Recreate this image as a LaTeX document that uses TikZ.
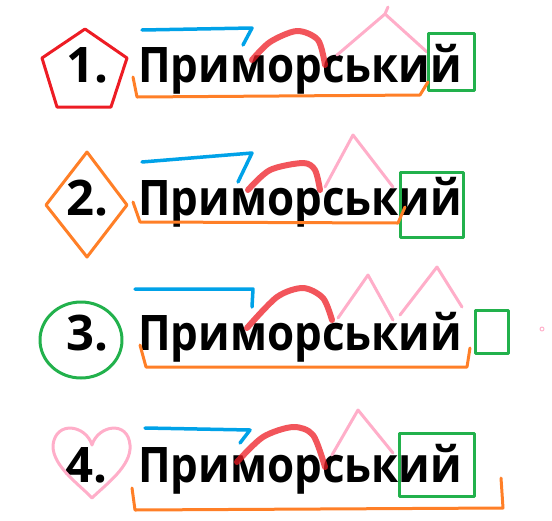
\documentclass[tikz,border=0pt]{standalone}
\usepackage{fontspec}
\setmainfont{Open Sans}
\definecolor{pRed}{RGB}{237,28,36}
\definecolor{pOrange}{RGB}{255,127,39}
\definecolor{pGreen}{RGB}{34,177,76}
\definecolor{pBlue}{RGB}{0,162,232}
\definecolor{pPink}{RGB}{255,174,201}
\begin{document}
\begin{tikzpicture}[x=1pt,y=-1pt, line cap=round, line join=round,
  numtxt/.style={anchor=base west, inner sep=0pt, font=\fontsize{49}{50}\selectfont\bfseries},
  wordtxt/.style={anchor=base west, inner sep=0pt, xscale=0.895, font=\fontsize{49}{50}\selectfont\bfseries},
  prefmark/.style={draw=pBlue, line width=3.5pt},
  rootmark/.style={draw=pRed, draw opacity=0.75, line width=6pt},
  sufmark/.style={draw=pPink, line width=3pt},
  endmark/.style={draw=pGreen, line width=3pt},
  stemmark/.style={draw=pOrange, line width=3pt},
  numframe/.style={line width=3pt}]
\useasboundingbox (0,0) rectangle (552,520);
% Row 1
\node[numtxt] (n1) at (66,82) {1.};
\node[wordtxt] (w1) at (138,82) {Приморський};
\draw[numframe, pRed] (85,29) -- (127,58) -- (111,107) -- (57,107) -- (42,58) -- cycle;
\draw[prefmark] (142,30) -- (252,28) -- (243,45);
\draw[rootmark] plot[smooth] coordinates {(252,60) (270,42) (297,31) (318,40) (325,65)};
\draw[sufmark] (337,55) -- (385,14) -- (427,52);
\draw[sufmark] (385,14) -- (388,7);
\draw[endmark] (428,33) rectangle (474,90);
\draw[stemmark] (133,77) -- (137,97) -- (420,95) -- (428,82);
% Row 2
\node[numtxt] (n2) at (66,215) {2.};
\node[wordtxt] (w2) at (138,215) {Приморський};
\draw[numframe, pOrange] (87,152) -- (127,205) -- (87,257) -- (46,205) -- cycle;
\draw[prefmark] (142,162) -- (252,153) -- (238,182);
\draw[rootmark] plot[smooth] coordinates {(248,190) (270,170) (303,163) (315,170) (320,190)};
\draw[sufmark] (325,187) -- (353,135) -- (393,187);
\draw[endmark] (400,172) rectangle (463,237);
\draw[stemmark] (133,202) -- (140,222) -- (398,223) -- (405,207);
% Row 3
\node[numtxt] (n3) at (66,350) {3.};
\node[wordtxt] (w3) at (138,350) {Приморський};
\draw[numframe, pGreen] (81,340) ellipse [x radius=41, y radius=38];
\draw[prefmark] (135,289) -- (253,289) -- (252,307);
\draw[rootmark] plot[smooth] coordinates {(247,328) (277,297) (303,288) (323,298) (332,320)};
\draw[sufmark] (338,318) -- (368,275) -- (393,320);
\draw[sufmark] (400,315) -- (437,267) -- (462,307);
\draw[endmark] (475,310) rectangle (508,353);
\draw[pPink, line width=1pt] (542,329) circle [radius=2];
\draw[stemmark] (140,345) -- (146,367) -- (467,367) -- (470,348);
% Row 4
\node[numtxt] (n4) at (65,482) {4.};
\node[wordtxt] (w4) at (138,482) {Приморський};
\draw[numframe, pPink] (92,445) .. controls (86,425) and (56,420) .. (53,445)
  .. controls (52,466) and (80,485) .. (92,498)
  .. controls (105,485) and (132,466) .. (130,445)
  .. controls (128,420) and (98,425) .. (92,445);
\draw[prefmark] (145,428) -- (250,430) -- (240,443);
\draw[rootmark] plot[smooth] coordinates {(237,462) (263,437) (293,427) (313,435) (325,467)};
\draw[sufmark] (332,455) -- (358,410) -- (393,453);
\draw[endmark] (399,433) rectangle (474,496);
\draw[stemmark] (132,488) -- (135,510) -- (503,508) -- (501,478);
\end{tikzpicture}
\end{document}
